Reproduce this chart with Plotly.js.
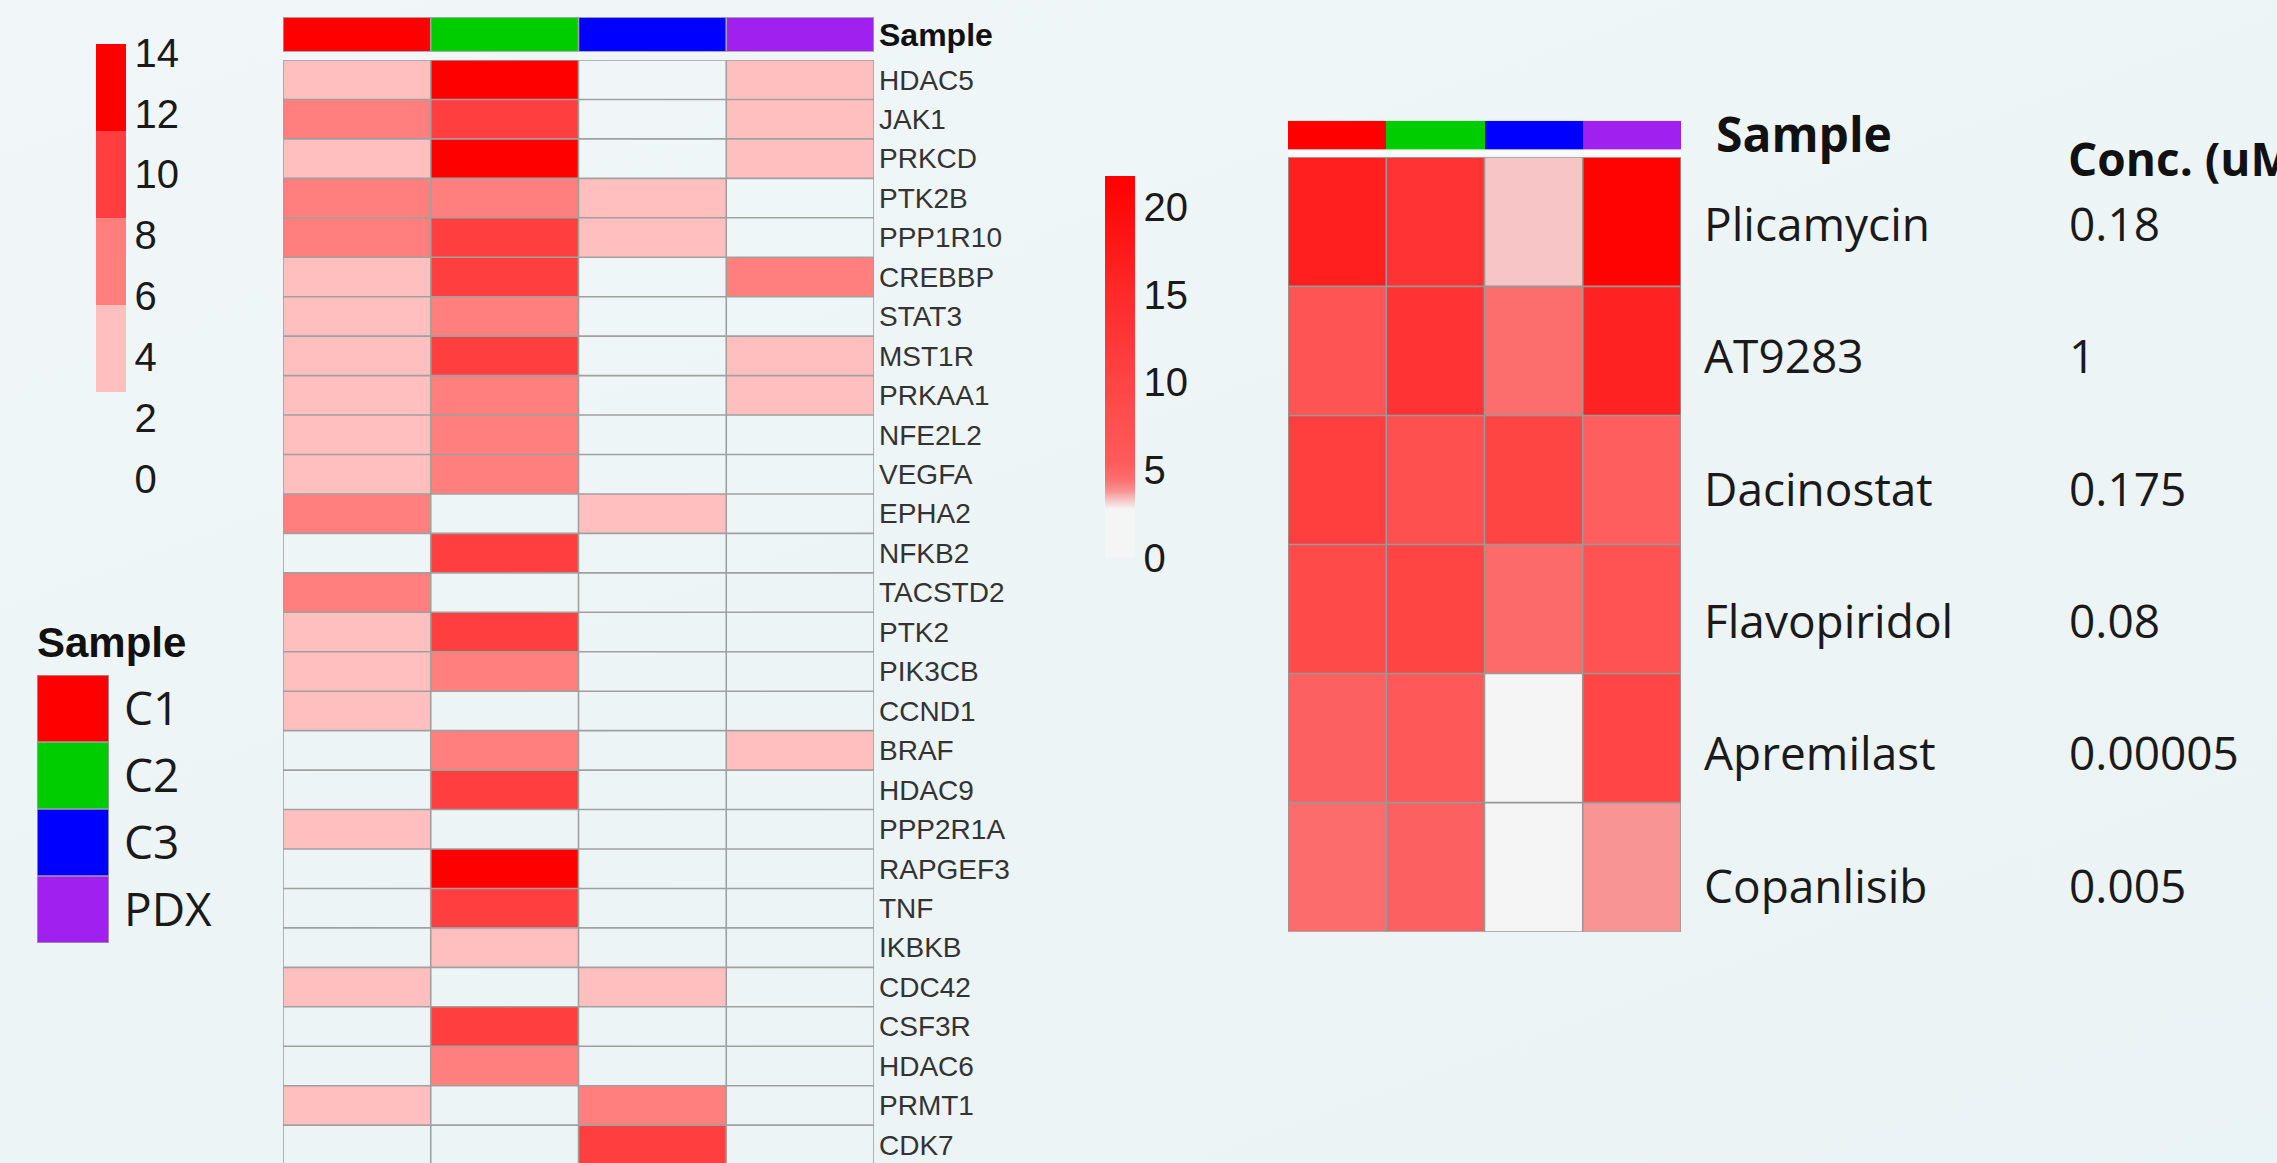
<!DOCTYPE html>
<html>
<head>
<meta charset="utf-8">
<script src="https://cdn.plot.ly/plotly-3.0.1.min.js"></script>
<style>
  html, body { margin: 0; padding: 0; width: 2277px; height: 1163px; overflow: hidden;
    background: linear-gradient(160deg, #f1f7f8 0%, #edf4f6 55%, #eaf3f5 100%); }
  #chart { width: 2277px; height: 1163px; }
</style>
</head>
<body>
<div id="chart"></div>
<script>
// ---- sample annotation ----
const samples = ['C1', 'C2', 'C3', 'PDX'];
const sampleColors = ['#ff0000', '#00cd00', '#0000ff', '#a020f0'];

// ---- gene heatmap (rows top to bottom) ----
const genes = ['HDAC5', 'JAK1', 'PRKCD', 'PTK2B', 'PPP1R10', 'CREBBP', 'STAT3', 'MST1R',
  'PRKAA1', 'NFE2L2', 'VEGFA', 'EPHA2', 'NFKB2', 'TACSTD2', 'PTK2', 'PIK3CB', 'CCND1',
  'BRAF', 'HDAC9', 'PPP2R1A', 'RAPGEF3', 'TNF', 'IKBKB', 'CDC42', 'CSF3R', 'HDAC6',
  'PRMT1', 'CDK7'];
const geneC1  = [4, 7, 4, 8, 7, 5, 4, 3, 4, 5, 4, 7, 0, 6, 4, 5, 3, 0, 1, 4, 0, 0, 1, 3, 0, 0, 4, 0];
const geneC2  = [13, 10, 14, 7, 11, 10, 7, 9, 8, 6, 7, 0, 10, 1, 9, 7, 0, 7, 10, 0, 12, 9, 4, 0, 10, 6, 0, 0];
const geneC3  = [0, 0, 0, 4, 3, 0, 0, 0, 0, 0, 0, 4, 0, 0, 0, 0, 0, 0, 0, 0, 0, 0, 0, 3, 0, 0, 7, 10];
const genePDX = [4, 4, 4, 0, 0, 7, 0, 4, 3, 0, 0, 0, 0, 0, 0, 0, 0, 4, 0, 0, 0, 0, 0, 0, 0, 0, 0, 0];
const geneTicks = [0, 2, 4, 6, 8, 10, 12, 14];
const geneMax = 14.3;

// ---- drug heatmap ----
const drugs = ['Plicamycin', 'AT9283', 'Dacinostat', 'Flavopiridol', 'Apremilast', 'Copanlisib'];
const drugConc = ['0.18', '1', '0.175', '0.08', '0.00005', '0.005'];
const drugC1  = [16.7, 6.7, 11.2, 8.8, 5.2, 4.6];
const drugC2  = [13.3, 13.3, 7.6, 10.0, 5.9, 5.2];
const drugC3  = [3.3, 4.5, 10.0, 4.7, 0, 0];
const drugPDX = [21.2, 16.2, 5.3, 7.2, 9.8, 3.8];
const drugTicks = [0, 5, 10, 15, 20];
const drugMax = 21.8;

// ---- page geometry helpers (pixels -> paper fractions) ----
const W = 2277, H = 1163;
const px = v => v / W;
const py = v => 1 - v / H;

const none = 'rgba(0,0,0,0)';
const bandScale = [
  [0.0, none], [0.2, none],
  [0.2, '#ffbfbf'], [0.4, '#ffbfbf'],
  [0.4, '#ff7f7f'], [0.6, '#ff7f7f'],
  [0.6, '#ff3f3f'], [0.8, '#ff3f3f'],
  [0.8, '#ff0000'], [1.0, '#ff0000']
];
const rampStops = [
  [0, '#f5f5f5'], [2.8, '#f5f5f5'], [3.3, '#f7c5c5'], [3.8, '#f99494'], [4.5, '#fc6e6e'],
  [5.5, '#fe5a5a'], [7, '#ff5353'], [10, '#ff4444'], [15, '#ff2a2a'], [20, '#ff0a0a'], [drugMax, '#ff0000']
];
const rampScale = rampStops.map(s => [s[0] / drugMax, s[1]]);
const sampleScale = [];
sampleColors.forEach((c, i) => {
  sampleScale.push([i / sampleColors.length, c]);
  sampleScale.push([(i + 1) / sampleColors.length, c]);
});

const numFont = { family: 'Liberation Sans, Arial, sans-serif', size: 40, color: '#1a1a1a' };
const labelFont = { family: 'Open Sans, Noto Sans, sans-serif', size: 46, color: '#1a1a1a' };

// cell borders drawn along the category boundaries of a heatmap subplot
function cellBorders(xref, yref, ncol, nrow, color) {
  const out = [];
  const line = { color: color, width: 1.6 };
  for (let i = 0; i <= ncol; i++) {
    out.push({ type: 'line', xref, yref, x0: i - 0.5, x1: i - 0.5, y0: -0.5, y1: nrow - 0.5, line, layer: 'above' });
  }
  for (let j = 0; j <= nrow; j++) {
    out.push({ type: 'line', xref, yref, x0: -0.5, x1: ncol - 0.5, y0: j - 0.5, y1: j - 0.5, line, layer: 'above' });
  }
  return out;
}

const traces = [
  { // sample bar above gene heatmap
    type: 'heatmap', x: samples, y: ['Sample'], z: [samples.map((s, i) => i)],
    xaxis: 'x', yaxis: 'y', colorscale: sampleScale, zmin: -0.5, zmax: samples.length - 0.5,
    showscale: false, hoverinfo: 'skip'
  },
  { // gene heatmap
    type: 'heatmap', x: samples, y: genes,
    z: genes.map((g, i) => [geneC1[i], geneC2[i], geneC3[i], genePDX[i]]),
    xaxis: 'x2', yaxis: 'y2', colorscale: bandScale, zmin: 0, zmax: geneMax, hoverinfo: 'skip',
    colorbar: {
      x: px(96), xanchor: 'left', y: py(43.6), yanchor: 'top',
      len: 435, lenmode: 'pixels', thickness: 30, thicknessmode: 'pixels',
      xpad: 0, ypad: 0, outlinewidth: 0, ticks: '',
      tickvals: geneTicks, tickfont: numFont
    }
  },
  { // sample legend boxes
    type: 'heatmap', x: ['Sample'], y: samples, z: samples.map((s, i) => [i]),
    xaxis: 'x3', yaxis: 'y3', colorscale: sampleScale, zmin: -0.5, zmax: samples.length - 0.5,
    showscale: false, hoverinfo: 'skip'
  },
  { // sample bar above drug heatmap
    type: 'heatmap', x: samples, y: ['Sample'], z: [samples.map((s, i) => i)],
    xaxis: 'x4', yaxis: 'y4', colorscale: sampleScale, zmin: -0.5, zmax: samples.length - 0.5,
    showscale: false, hoverinfo: 'skip'
  },
  { // drug heatmap
    type: 'heatmap', x: samples, y: drugs,
    z: drugs.map((d, i) => [drugC1[i], drugC2[i], drugC3[i], drugPDX[i]]),
    xaxis: 'x5', yaxis: 'y5', colorscale: rampScale, zmin: 0, zmax: drugMax, hoverinfo: 'skip',
    colorbar: {
      x: px(1105), xanchor: 'left', y: py(175.7), yanchor: 'top',
      len: 382, lenmode: 'pixels', thickness: 30, thicknessmode: 'pixels',
      xpad: 0, ypad: 0, outlinewidth: 0, ticks: '',
      tickvals: drugTicks, tickfont: numFont
    }
  },
  { // drug name column (labels come from the y6 axis)
    type: 'scatter', mode: 'markers', x: drugs.map(() => 0), y: drugs,
    marker: { opacity: 0 }, xaxis: 'x6', yaxis: 'y6', hoverinfo: 'skip'
  },
  { // concentration column (labels come from the y7 axis)
    type: 'scatter', mode: 'markers', x: drugs.map(() => 0), y: drugs,
    marker: { opacity: 0 }, xaxis: 'x6', yaxis: 'y7', hoverinfo: 'skip'
  }
];

const hidden = { visible: false, fixedrange: true };
const textAxis = {
  ticks: '', showgrid: false, zeroline: false, showline: false, ticklabelstandoff: 0,
  tickfont: labelFont, side: 'right', anchor: 'free', range: [5.5, -0.5]
};
const layout = {
  width: W, height: H,
  margin: { l: 0, r: 0, t: 0, b: 0, pad: 0 },
  paper_bgcolor: 'rgba(0,0,0,0)',
  plot_bgcolor: 'rgba(0,0,0,0)',
  showlegend: false,
  xaxis: Object.assign({ domain: [px(283), px(874)], anchor: 'y', range: [-0.5, 3.5] }, hidden),
  yaxis: {
    domain: [py(51.7), py(17.3)], anchor: 'x', side: 'right', range: [-0.5, 0.5],
    ticks: '', showgrid: false, zeroline: false, showline: false, ticklabelstandoff: 4,
    tickfont: { family: 'Liberation Sans, Arial, sans-serif', size: 32, color: '#111', weight: 'bold' }
  },
  xaxis2: Object.assign({ domain: [px(283), px(874)], anchor: 'y2', range: [-0.5, 3.5] }, hidden),
  yaxis2: {
    domain: [0, py(60)], anchor: 'x2', side: 'right', range: [27.46, -0.5], type: 'category',
    ticks: '', showgrid: false, zeroline: false, showline: false, ticklabelstandoff: 4,
    tickfont: { family: 'Liberation Sans, Arial, sans-serif', size: 28, color: '#333' }
  },
  xaxis3: Object.assign({ domain: [px(37), px(109)], anchor: 'y3', range: [-0.5, 0.5] }, hidden),
  yaxis3: {
    domain: [py(943), py(675)], anchor: 'x3', side: 'right', range: [3.5, -0.5],
    ticks: '', showgrid: false, zeroline: false, showline: false, ticklabelstandoff: 14,
    tickfont: labelFont
  },
  xaxis4: Object.assign({ domain: [px(1288), px(1681)], anchor: 'y4', range: [-0.5, 3.5] }, hidden),
  yaxis4: {
    domain: [py(149.5), py(120.7)], anchor: 'x4', side: 'right', range: [-0.5, 0.5],
    ticks: '', showgrid: false, zeroline: false, showline: false, ticklabelstandoff: 34,
    tickfont: { family: 'Open Sans, Noto Sans, sans-serif', size: 48, color: '#111', weight: 'bold' }
  },
  xaxis5: Object.assign({ domain: [px(1288), px(1681)], anchor: 'y5', range: [-0.5, 3.5] }, hidden),
  yaxis5: Object.assign({ domain: [py(931.7), py(157.3)], anchor: 'x5', range: [5.5, -0.5] }, hidden),
  xaxis6: Object.assign({ domain: [px(1700), px(2270)], anchor: 'y6', range: [0, 1] }, hidden),
  yaxis6: Object.assign({}, textAxis, {
    domain: [py(952.6), py(158.9)], position: px(1703), type: 'category', categoryarray: drugs
  }),
  yaxis7: Object.assign({}, textAxis, {
    overlaying: 'y6', position: px(2068), type: 'category', categoryarray: drugs,
    tickvals: drugs, ticktext: drugConc
  }),
  shapes: [].concat(
    cellBorders('x', 'y', samples.length, 1, '#a0a0a0'),
    cellBorders('x2', 'y2', samples.length, genes.length, '#a0a0a0'),
    cellBorders('x3', 'y3', 1, samples.length, '#a0a0a0'),
    cellBorders('x5', 'y5', samples.length, drugs.length, '#989898'),
    [{ // light separator under the drug sample bar
      type: 'rect', xref: 'x4', yref: 'paper', x0: -0.5, x1: 3.5, y0: py(155.5), y1: py(150.5),
      fillcolor: '#fbfbfb', line: { width: 0 }, layer: 'below'
    }]
  ),
  annotations: [
    { text: '<b>Sample</b>', xref: 'paper', yref: 'paper', x: px(35), y: py(642), xanchor: 'left',
      yanchor: 'middle', showarrow: false,
      font: { family: 'Liberation Sans, Arial, sans-serif', size: 42, color: '#111' } },
    { text: '<b>Conc. (uM)</b>', xref: 'paper', yref: 'paper', x: px(2066), y: py(158), xanchor: 'left',
      yanchor: 'middle', showarrow: false,
      font: { family: 'Open Sans, Noto Sans, sans-serif', size: 46, color: '#111' } }
  ]
};

Plotly.newPlot('chart', traces, layout, { staticPlot: true, displayModeBar: false });
</script>
</body>
</html>
